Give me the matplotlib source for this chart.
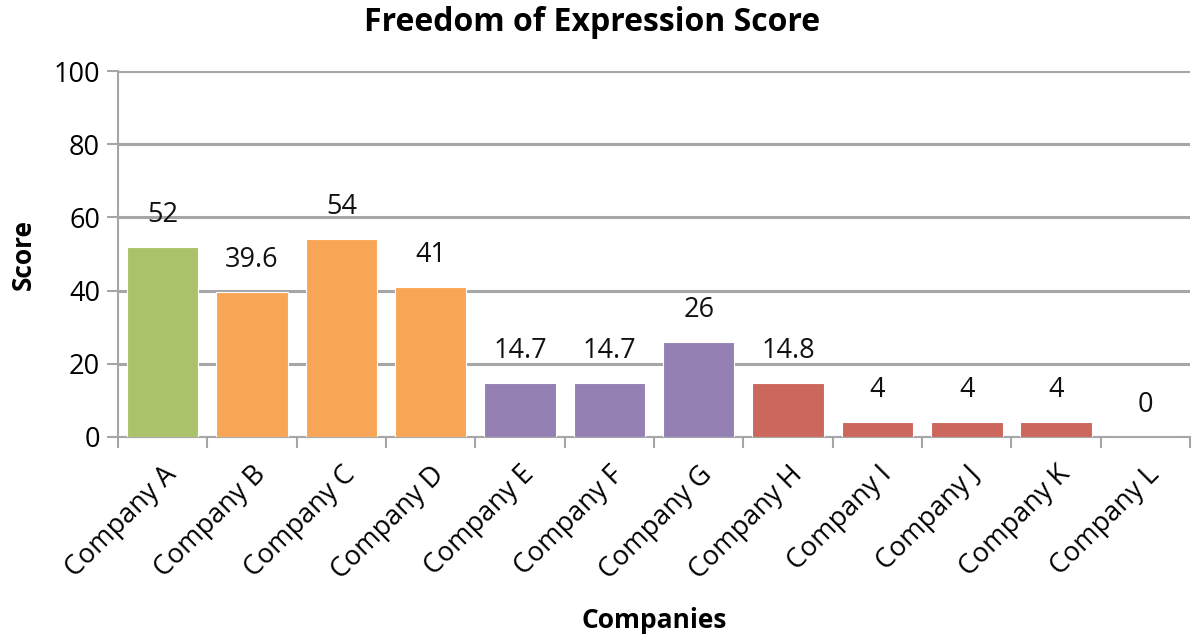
import matplotlib.pyplot as plt

plt.rcParams['font.family'] = ['Open Sans', 'DejaVu Sans']

companies = ['Company A', 'Company B', 'Company C', 'Company D', 'Company E', 'Company F',
             'Company G', 'Company H', 'Company I', 'Company J', 'Company K', 'Company L']
scores = [52, 39.6, 54, 41, 14.7, 14.7, 26, 14.8, 4, 4, 4, 0]
labels = ['52', '39.6', '54', '41', '14.7', '14.7', '26', '14.8', '4', '4', '4', '0']
colors = ['#AAC36A', '#F8A656', '#F8A656', '#F8A656', '#9480B3', '#9480B3',
          '#9480B3', '#CC675E', '#CC675E', '#CC675E', '#CC675E', '#CC675E']

fig = plt.figure(figsize=(11.94, 6.37), dpi=100)
ax = fig.add_axes([0.0988, 0.314, 0.898, 0.5745])

x = range(len(companies))
bars = ax.bar(x, scores, width=0.8, color=colors, edgecolor='white', linewidth=0.8, zorder=3)

for xi, v, lab in zip(x, scores, labels):
    ax.annotate(lab, (xi, v), xytext=(0, 23), textcoords='offset points',
                ha='center', va='center', fontsize=19.5, color='#111111')

ax.set_xlim(-0.5, len(companies) - 0.5)
ax.set_ylim(0, 100)
ax.set_yticks(range(0, 101, 20))
ax.yaxis.grid(True, color='#A6A6A6', linewidth=2.2, zorder=0)
ax.set_axisbelow(True)

# category ticks sit between bars
ax.set_xticks([i - 0.5 for i in range(len(companies) + 1)], minor=False)
ax.set_xticklabels([])
ax.set_xticks(list(x), minor=True)
ax.set_xticklabels(companies, minor=True, rotation=45, ha='right', va='top',
                   rotation_mode='anchor', fontsize=19.5)
ax.tick_params(axis='x', which='minor', length=0, pad=17)
ax.tick_params(axis='x', which='major', length=8, width=1.5, color='#A6A6A6')
ax.tick_params(axis='y', length=8, width=1.5, color='#A6A6A6', labelsize=19.5, pad=5)

for side in ['top', 'right']:
    ax.spines[side].set_visible(False)
for side in ['left', 'bottom']:
    ax.spines[side].set_color('#A6A6A6')
    ax.spines[side].set_linewidth(1.5)

fig.text(0.496, 0.965, 'Freedom of Expression Score', fontsize=23, fontweight='bold',
         ha='center', va='center')
ax.set_ylabel('Score', fontsize=19, fontweight='bold', labelpad=12)
ax.set_xlabel('Companies', fontsize=19, fontweight='bold', labelpad=16)

fig.savefig('out.png', dpi=100)
